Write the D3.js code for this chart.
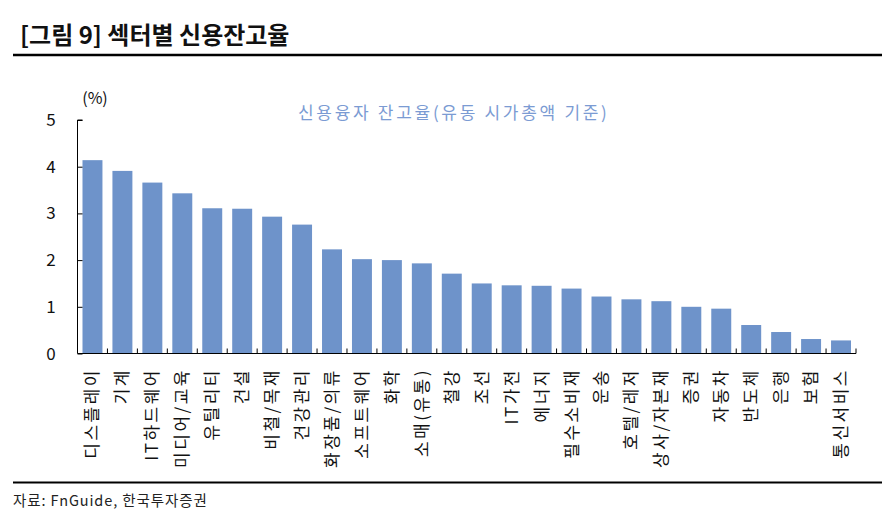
<!DOCTYPE html>
<html>
<head>
<meta charset="utf-8">
<script src="https://cdn.jsdelivr.net/npm/d3@7"></script>
<style>
  body { margin: 0; background: #fff; }
  text { font-family: "Noto Sans CJK KR", "Noto Sans", sans-serif; }
</style>
</head>
<body>
<svg width="895" height="527"></svg>
<script>
var sectors = ["디스플레이", "기계", "IT하드웨어", "미디어/교육", "유틸리티", "건설", "비철/목재", "건강관리",
  "화장품/의류", "소프트웨어", "화학", "소매(유통)", "철강", "조선", "IT가전", "에너지", "필수소비재",
  "운송", "호텔/레저", "상사/자본재", "증권", "자동차", "반도체", "은행", "보험", "통신서비스"];

var creditRatio = [4.14, 3.91, 3.66, 3.43, 3.11, 3.10, 2.93, 2.76, 2.23, 2.02, 2.00, 1.93, 1.71,
  1.50, 1.46, 1.45, 1.39, 1.22, 1.16, 1.12, 1.00, 0.96, 0.61, 0.46, 0.31, 0.28];

var yTicks = [0, 1, 2, 3, 4, 5];

var svg = d3.select("svg");

// title + rules
svg.append("text")
   .attr("x", 20).attr("y", 44)
   .attr("font-size", 24).attr("font-weight", "bold")
   .attr("fill", "#111")
   .text("[그림 9] 섹터별 신용잔고율");

svg.append("line")
   .attr("x1", 13).attr("x2", 882).attr("y1", 55).attr("y2", 55)
   .attr("stroke", "#000").attr("stroke-width", 2.5);

svg.append("line")
   .attr("x1", 13).attr("x2", 882).attr("y1", 482.5).attr("y2", 482.5)
   .attr("stroke", "#000").attr("stroke-width", 2);

svg.append("text")
   .attr("x", 13).attr("y", 506)
   .attr("font-size", 14.5).attr("letter-spacing", 0.9).attr("fill", "#222")
   .text("자료: FnGuide, 한국투자증권");

var plotLeft = 77.5, plotRight = 856, plotTop = 120, plotBottom = 353.5;

var x = d3.scaleBand()
          .domain(sectors)
          .range([plotLeft, plotRight])
          .paddingInner(1/3)
          .paddingOuter(1/6);

var y = d3.scaleLinear()
          .domain([0, 5])
          .range([plotBottom, plotTop]);

// bars
svg.selectAll("rect.bar")
   .data(creditRatio)
   .enter()
   .append("rect")
   .attr("class", "bar")
   .attr("x", function(d, i){ return x(sectors[i]); })
   .attr("y", function(d){ return y(d); })
   .attr("width", x.bandwidth())
   .attr("height", function(d){ return plotBottom - y(d); })
   .attr("fill", "#6e93ca");

// y axis
var yAxis = svg.append("g")
   .attr("transform", "translate(" + plotLeft + ",0)")
   .call(d3.axisRight(y).tickValues(yTicks).tickSize(5).tickFormat(""));
yAxis.select(".domain").attr("d", "M5," + plotTop + "H0V" + plotBottom);
yAxis.selectAll("line").attr("stroke", "#000");

svg.selectAll("text.ytick")
   .data(yTicks)
   .enter()
   .append("text")
   .attr("class", "ytick")
   .attr("x", 51).attr("y", function(d){ return y(d) + 6; })
   .attr("text-anchor", "middle")
   .attr("font-size", 17).attr("fill", "#111")
   .text(function(d){ return d; });

svg.append("text")
   .attr("x", 95).attr("y", 104)
   .attr("text-anchor", "middle")
   .attr("font-size", 16).attr("fill", "#111")
   .text("(%)");

// x axis: ticks at category boundaries, pointing up
var step = x.step();
var bounds = d3.range(sectors.length + 1).map(function(i){ return plotLeft + i * step; });
svg.append("line")
   .attr("x1", plotLeft).attr("x2", plotRight).attr("y1", plotBottom).attr("y2", plotBottom)
   .attr("stroke", "#000").attr("stroke-width", 1.2);
svg.selectAll("line.xtick")
   .data(bounds.slice(1))
   .enter()
   .append("line")
   .attr("class", "xtick")
   .attr("x1", function(d){ return d; }).attr("x2", function(d){ return d; })
   .attr("y1", plotBottom).attr("y2", plotBottom - 5)
   .attr("stroke", "#000");

svg.selectAll("text.xlab")
   .data(sectors)
   .enter()
   .append("text")
   .attr("class", "xlab")
   .attr("transform", function(d){
     return "translate(" + (x(d) + x.bandwidth() / 2 + 6) + ",368) rotate(-90)";
   })
   .attr("text-anchor", "end")
   .attr("font-size", 17).attr("letter-spacing", 2.5).attr("fill", "#111")
   .text(function(d){ return d; });

// legend text
svg.append("text")
   .attr("x", 298).attr("y", 119)
   .attr("font-size", 17).attr("letter-spacing", 2.7).attr("fill", "#7b9bd3")
   .text("신용융자 잔고율(유동 시가총액 기준)");
</script>
</body>
</html>
